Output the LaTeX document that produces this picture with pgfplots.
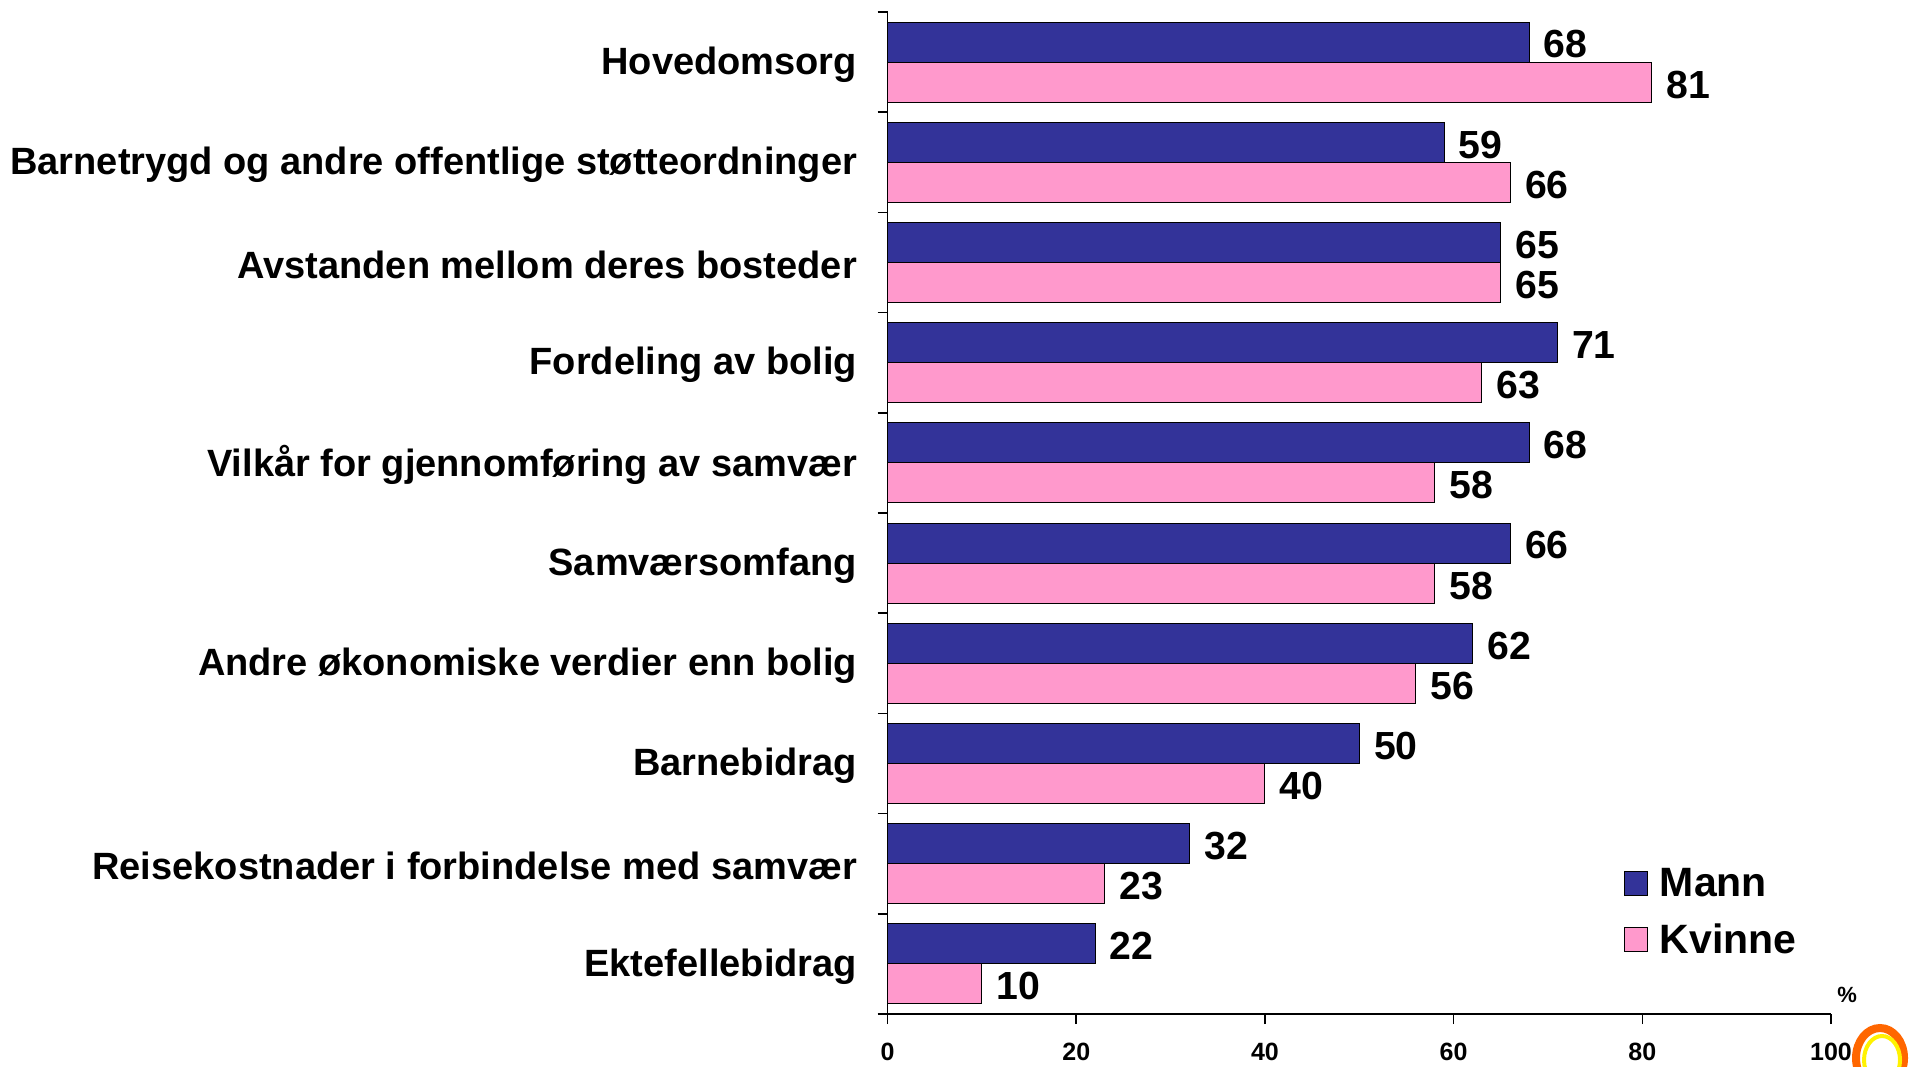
\documentclass[border=0pt]{standalone}
\usepackage{fontspec}
\setmainfont{Liberation Sans}
\usepackage{pgfplots}
\pgfplotsset{compat=1.18}
\definecolor{mann}{HTML}{333399}
\definecolor{kvinne}{HTML}{FF99CC}
\begin{document}
\begin{tikzpicture}
\useasboundingbox (0,0) rectangle (954.5pt,533pt);
\begin{axis}[
  at={(443.8pt,26pt)}, anchor=south west,
  scale only axis, width=471.7pt, height=501pt,
  xbar, bar width=0.4,
  xmin=0, xmax=100, ymin=-0.5, ymax=9.5, y dir=reverse,
  axis lines=left, axis line style={-, line width=0.8pt},
  every tick/.style={black, line width=0.8pt},
  tick align=outside,
  xtick={0,20,...,100},
  /pgf/number format/assume math mode=true,
  xticklabel style={font=\bfseries\fontsize{12.5}{12.5}\selectfont, yshift=-6pt},
  ytick={-0.5,0.5,1.5,2.5,3.5,4.5,5.5,6.5,7.5,8.5,9.5},
  yticklabels={},
  major tick length=5pt,
  extra y ticks={0,1,2,3,4,5,6,7,8,9},
  extra y tick labels={Hovedomsorg,Barnetrygd og andre offentlige støtteordninger,Avstanden mellom deres bosteder,Fordeling av bolig,Vilkår for gjennomføring av samvær,Samværsomfang,Andre økonomiske verdier enn bolig,Barnebidrag,Reisekostnader i forbindelse med samvær,Ektefellebidrag},
  extra y tick style={major tick length=0pt, yticklabel style={font=\bfseries\fontsize{19}{19}\selectfont, anchor=east, xshift=-11.8pt, yshift=-1.2pt}},
  nodes near coords,
  every node near coord/.append style={font=\bfseries\fontsize{19.6}{19.6}\selectfont, anchor=west, xshift=3.8pt, yshift=-1.2pt, black},
  legend style={draw=none, fill=none, at={(rel axis cs:0.78,0.15)}, anchor=north west,
    font=\bfseries\fontsize{20.5}{20.5}\selectfont, row sep=8pt, inner sep=0pt,
    nodes={inner xsep=6pt}},
  legend cell align=left,
  legend image code/.code={\draw[#1, line width=0.5pt] (0pt,-6pt) rectangle (11.5pt,6pt);},
  clip=false,
]
\addplot[fill=mann, draw=black, line width=0.5pt, bar shift=-0.2] coordinates {
(68,0) (59,1) (65,2) (71,3) (68,4) (66,5) (62,6) (50,7) (32,8) (22,9)};
\addplot[fill=kvinne, draw=black, line width=0.5pt, bar shift=0.2] coordinates {
(81,0) (66,1) (65,2) (63,3) (58,4) (58,5) (56,6) (40,7) (23,8) (10,9)};
\legend{Mann, Kvinne}
\node[font=\bfseries\fontsize{11}{11}\selectfont] at (rel axis cs:1.017,0.019) {\%};
\end{axis}
\draw[color=orange!80!red, line width=4pt] (940pt,4pt) ellipse (12pt and 15pt);
\draw[color=yellow, line width=2pt] (941pt,3pt) ellipse (9pt and 12pt);
\end{tikzpicture}
\end{document}
